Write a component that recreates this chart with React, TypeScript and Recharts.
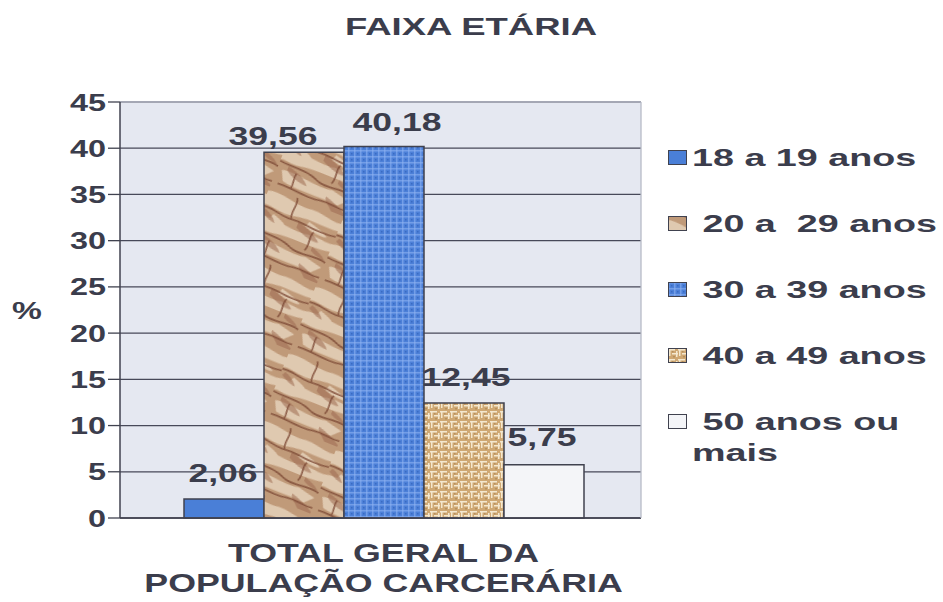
import React from 'react';
import { BarChart, Bar, XAxis, YAxis, CartesianGrid, LabelList, ReferenceLine } from 'recharts';

// Faixa etária da população carcerária (%), uma única categoria com 5 séries.
const categories = ['TOTAL GERAL DA\nPOPULAÇÃO CARCERÁRIA'];
const seriesNames = ['18 a 19 anos', ' 20 a  29 anos', ' 30 a 39 anos', ' 40 a 49 anos', ' 50 anos ou mais'];
const s18a19 = [2.06];
const s20a29 = [39.56];
const s30a39 = [40.18];
const s40a49 = [12.45];
const s50mais = [5.75];
const yTicks = [0, 5, 10, 15, 20, 25, 30, 35, 40, 45];

const seriesValues = [s18a19, s20a29, s30a39, s40a49, s50mais];
const FILLS = ['#4a7fd7', 'url(#fx-papel)', 'url(#fx-tecido)', 'url(#fx-palha)', '#f4f5f8'];
// deslocamento dos rótulos (como no original, 39,56 e 40,18 se afastam)
const LABEL_DX = [-1, -31, 13, 2, -2];
const LABEL_GAP = [17, 7, 16, 17, 19];

const TXT = '#3b3d4c';
const FONT = '"Liberation Sans", Arial, Helvetica, sans-serif';
const EDGE = '#40424f';

const keys = seriesNames.map((_, i) => `s${i}`);
const data = categories.map((cat, i) => {
  const row: Record<string, string | number> = { name: cat };
  seriesValues.forEach((vals, si) => {
    row[keys[si]] = vals[i];
  });
  return row;
});

const fmt = (v: number) => Number(v).toFixed(2).replace('.', ',');

function YTick(props: any) {
  const { x, y, payload } = props;
  return (
    <g transform={`translate(${x},${y}) scale(1.35,1)`}>
      <text x={0} y={0} dy={8.5} textAnchor="end" fontFamily={FONT} fontWeight={700} fontSize={24} fill={TXT}>
        {payload.value}
      </text>
    </g>
  );
}

function XTick(props: any) {
  const { x, y, payload } = props;
  const lines = String(payload.value).split('\n');
  return (
    <g>
      {lines.map((ln, i) => (
        <g key={i} transform={`translate(${x},${y + 36 + i * 30}) scale(1.43,1)`}>
          <text x={0} y={0} textAnchor="middle" fontFamily={FONT} fontWeight={700} fontSize={25} fill={TXT}>
            {ln}
          </text>
        </g>
      ))}
    </g>
  );
}

const makeValueLabel = (si: number) => (props: any) => {
  const { x, y, width, value } = props;
  return (
    <g transform={`translate(${x + width / 2 + LABEL_DX[si]},${y - LABEL_GAP[si]}) scale(1.34,1)`}>
      <text x={0} y={0} textAnchor="middle" fontFamily={FONT} fontWeight={700} fontSize={26.5} fill={TXT}>
        {fmt(value)}
      </text>
    </g>
  );
};

function PctLabel(props: any) {
  const vb = props.viewBox || { x: 60, y: 102, width: 60, height: 416 };
  return (
    <g transform={`translate(${vb.x - 33},${vb.y + vb.height / 2 + 9}) scale(1.4,1)`}>
      <text x={0} y={0} textAnchor="middle" fontFamily={FONT} fontWeight={700} fontSize={24} fill={TXT}>
        %
      </text>
    </g>
  );
}

function Patterns() {
  return (
    <defs>
      <pattern id="fx-papel" patternUnits="userSpaceOnUse" width={80} height={72} patternTransform="rotate(22)">
        <rect width={80} height={72} fill="#c09a79" />
        <g fill="#e8d5be" opacity={0.8}>
          <path d="M0 4 C15 0 30 8 45 6 C60 4 70 10 80 8 L80 16 C65 18 50 14 35 18 C20 22 10 16 0 18 Z" />
          <path d="M0 30 C20 26 35 34 55 30 C65 28 72 32 80 30 L80 38 C60 42 40 38 20 42 C10 44 4 40 0 42 Z" />
          <path d="M5 52 C20 48 40 56 60 52 L78 56 L70 64 C50 62 30 66 10 62 Z" />
          <path d="M50 18 C58 20 66 22 72 26 C64 28 56 26 48 24 Z" />
          <path d="M14 24 C20 26 26 28 28 30 C22 32 16 30 12 28 Z" />
        </g>
        <g fill="#9c6a50" opacity={0.55}>
          <path d="M40 22 C50 24 60 28 66 34 C58 36 48 32 40 28 Z" />
          <path d="M10 46 C20 48 30 52 34 58 C24 58 14 54 10 50 Z" />
          <path d="M56 60 C64 62 72 66 80 70 L80 72 L66 72 C62 68 58 66 56 62 Z" />
          <path d="M4 22 C10 24 16 28 18 32 C12 32 6 28 2 26 Z" />
          <path d="M62 40 C68 42 74 44 78 48 C70 48 66 46 62 44 Z" />
        </g>
        <g fill="none" stroke="#7a4632" strokeWidth={1.7} opacity={0.8}>
          <path d="M0 20 C12 18 22 24 34 22 C46 20 58 26 80 22" />
          <path d="M0 44 C14 46 28 42 40 48 C52 54 66 46 80 50" />
          <path d="M6 66 C20 64 36 70 52 66 C62 64 72 68 80 66" />
          <path d="M30 0 C34 8 28 14 32 22" />
          <path d="M58 26 C54 32 60 38 56 46" />
          <path d="M20 50 C18 56 22 60 20 66" />
        </g>
      </pattern>
      <pattern id="fx-tecido" patternUnits="userSpaceOnUse" width={6} height={6}>
        <rect width={6} height={6} fill="#4c80d8" />
        <rect x={0} y={0} width={6} height={1.5} fill="#8db3f2" opacity={0.6} />
        <rect x={0} y={0} width={1.5} height={6} fill="#8db3f2" opacity={0.6} />
        <rect x={3} y={3} width={1.5} height={1.5} fill="#2f5db3" opacity={0.6} />
      </pattern>
      <pattern id="fx-palha" patternUnits="userSpaceOnUse" width={10} height={10}>
        <rect width={10} height={10} fill="#cfa873" />
        <g fill="#f4e8cf">
          <rect x={0} y={1} width={7} height={1.5} />
          <rect x={1} y={1} width={1.5} height={7} />
          <rect x={4} y={5} width={6} height={1.5} />
          <rect x={8} y={3} width={1.5} height={6} />
        </g>
        <g fill="#9e7646" opacity={0.5}>
          <rect x={4} y={3} width={1.5} height={1.5} />
          <rect x={5} y={8} width={2} height={1.5} />
        </g>
      </pattern>
    </defs>
  );
}

function Legenda() {
  return (
    <div style={{ position: 'absolute', left: 668, top: 141.5, width: 275 }}>
      {seriesNames.map((name, i) => (
        <div key={name} style={{ display: 'flex', alignItems: 'flex-start', marginBottom: 35 }}>
          <svg width={19} height={15} style={{ marginTop: 8, flex: 'none' }}>
            <rect x={0.5} y={0.5} width={18} height={14} fill={FILLS[i]} stroke={EDGE} strokeWidth={1} />
          </svg>
          <div
            style={{
              marginLeft: 5,
              width: 165,
              whiteSpace: 'pre-wrap',
              fontFamily: FONT,
              fontWeight: 700,
              fontSize: 24,
              lineHeight: '31px',
              color: TXT,
              transform: 'scaleX(1.57)',
              transformOrigin: 'left center',
            }}
          >
            {name}
          </div>
        </div>
      ))}
    </div>
  );
}

export default function App() {
  return (
    <div style={{ position: 'absolute', left: 0, top: 0, width: 943, height: 602, background: '#fff', overflow: 'hidden' }}>
      <div
        style={{
          position: 'absolute',
          left: 471,
          top: 14.7,
          fontFamily: FONT,
          fontWeight: 700,
          fontSize: 24,
          lineHeight: '24px',
          color: TXT,
          whiteSpace: 'nowrap',
          transform: 'translateX(-50%) scaleX(1.52)',
        }}
      >
        FAIXA ETÁRIA
      </div>
      <div style={{ position: 'absolute', left: 0, top: 0 }}>
        <BarChart width={943} height={602} data={data} margin={{ top: 102, right: 301, bottom: 24, left: 60 }} barGap={0}>
          <Patterns />
          <CartesianGrid vertical={false} stroke="#474959" strokeWidth={1.3} fill="#e5e8f1" fillOpacity={1} />
          <XAxis
            dataKey="name"
            height={60}
            interval={0}
            padding={{ left: 6, right: 0 }}
            tickLine={false}
            axisLine={{ stroke: EDGE, strokeWidth: 1.5 }}
            tick={<XTick />}
          />
          <YAxis
            width={60}
            domain={[0, 45]}
            ticks={yTicks}
            interval={0}
            tickSize={12}
            axisLine={{ stroke: EDGE, strokeWidth: 1.5 }}
            tickLine={{ stroke: EDGE, strokeWidth: 1.3 }}
            tick={<YTick />}
            label={{ value: '%', content: PctLabel }}
          />
          <YAxis
            yAxisId="borda"
            orientation="right"
            width={1}
            domain={[0, 45]}
            tick={false}
            tickLine={false}
            axisLine={{ stroke: '#b6bac6', strokeWidth: 1.3 }}
          />
          <ReferenceLine y={45} stroke="#b6bac6" strokeWidth={1.5} />
          {keys.map((k, i) => (
            <Bar key={k} dataKey={k} name={seriesNames[i]} fill={FILLS[i]} stroke={EDGE} strokeWidth={1.5} barSize={80} isAnimationActive={false}>
              <LabelList dataKey={k} content={makeValueLabel(i)} />
            </Bar>
          ))}
        </BarChart>
      </div>
      <Legenda />
    </div>
  );
}
